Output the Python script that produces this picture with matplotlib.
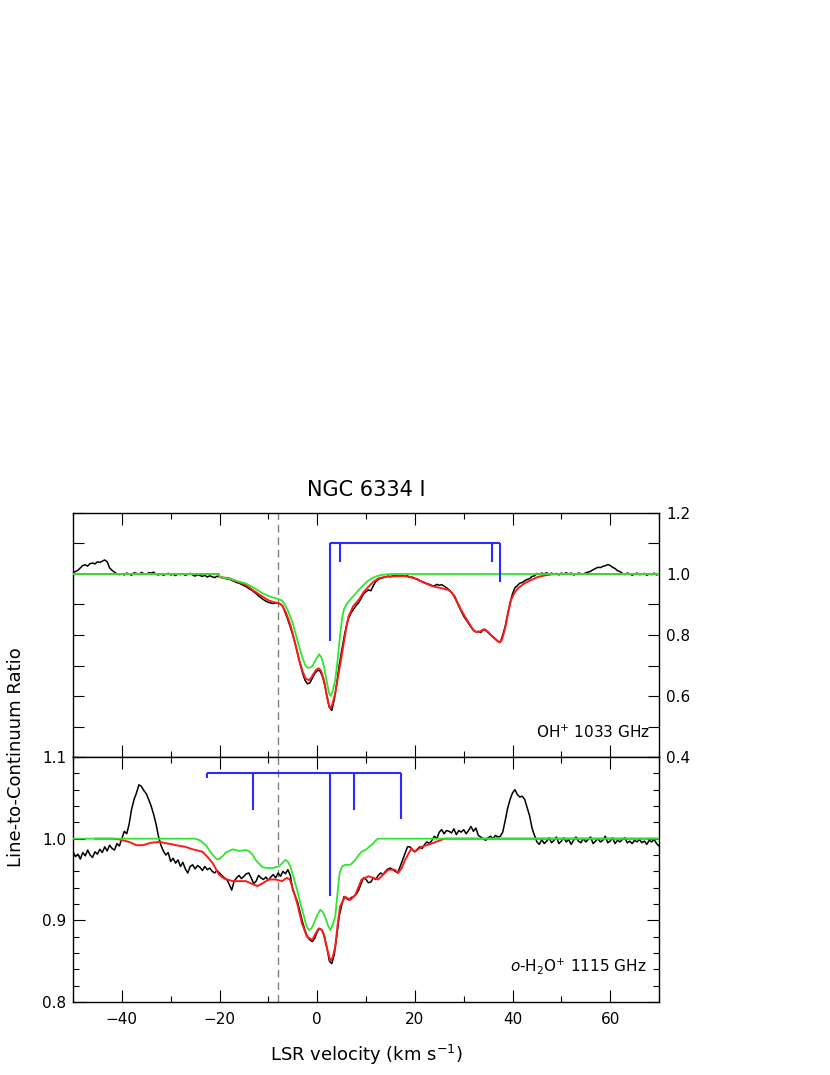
import numpy as np
import matplotlib
matplotlib.use("Agg")
import matplotlib.pyplot as plt
from matplotlib.ticker import MultipleLocator

# ---------------- DATA ----------------
# Observed spectra: channels from -50 km/s in 0.5 km/s steps (10 values per row = 5 km/s)
oh_obs = [
    1.005, 1.008, 1.012, 1.020, 1.028, 1.030, 1.026, 1.034, 1.036, 1.033,   # -50
    1.040, 1.038, 1.042, 1.046, 1.040, 1.020, 1.012, 1.006, 1.000, 0.998,   # -45
    1.001, 0.997, 1.003, 1.000, 0.996, 1.004, 1.002, 0.998, 1.005, 1.001,   # -40
    0.999, 1.004, 1.003, 1.006, 0.999, 0.997, 1.001, 0.996, 0.999, 1.002,   # -35
    0.997, 0.999, 0.995, 1.001, 0.998, 1.000, 0.996, 0.999, 1.002, 0.997,   # -30
    0.993, 0.998, 0.995, 0.992, 0.996, 0.990, 0.994, 0.991, 0.988, 0.993,   # -25
    0.990, 0.988, 0.986, 0.984, 0.983, 0.979, 0.976, 0.972, 0.970, 0.966,   # -20
    0.962, 0.958, 0.952, 0.948, 0.942, 0.936, 0.928, 0.922, 0.916, 0.911,   # -15
    0.907, 0.905, 0.903, 0.905, 0.904, 0.902, 0.893, 0.872, 0.850, 0.826,   # -10
    0.800, 0.772, 0.740, 0.705, 0.676, 0.652, 0.640, 0.643, 0.658, 0.674,   # -5
    0.683, 0.684, 0.668, 0.640, 0.598, 0.562, 0.553, 0.588, 0.640, 0.700,   # 0
    0.745, 0.792, 0.832, 0.858, 0.874, 0.886, 0.897, 0.906, 0.920, 0.935,   # 5
    0.942, 0.948, 0.945, 0.962, 0.975, 0.982, 0.986, 0.988, 0.990, 0.993,   # 10
    0.991, 0.994, 0.995, 0.996, 0.993, 0.995, 0.992, 0.994, 0.989, 0.990,   # 15
    0.985, 0.984, 0.978, 0.975, 0.972, 0.968, 0.966, 0.962, 0.961, 0.966,   # 20
    0.963, 0.965, 0.960, 0.955, 0.948, 0.940, 0.928, 0.912, 0.895, 0.878,   # 25
    0.862, 0.850, 0.838, 0.826, 0.815, 0.810, 0.812, 0.808, 0.818, 0.815,   # 30
    0.808, 0.800, 0.793, 0.786, 0.779, 0.776, 0.800, 0.828, 0.868, 0.905,   # 35
    0.935, 0.955, 0.962, 0.970, 0.972, 0.978, 0.982, 0.985, 0.992, 0.994,   # 40
    1.002, 0.998, 1.003, 1.000, 1.004, 0.998, 1.003, 0.999, 1.002, 0.997,   # 45
    1.003, 1.000, 1.004, 0.999, 1.003, 0.997, 0.999, 1.003, 1.001, 0.999,   # 50
    1.004, 1.006, 1.009, 1.014, 1.018, 1.022, 1.021, 1.025, 1.027, 1.031,   # 55
    1.028, 1.022, 1.018, 1.011, 1.008, 1.002, 0.998, 1.003, 1.001, 0.996,   # 60
    1.000, 1.003, 0.998, 0.999, 1.002, 0.996, 1.000, 0.998, 1.003, 0.997,   # 65
    1.000,                                                                  # 70
]

h2o_obs = [
    0.984, 0.978, 0.981, 0.975, 0.983, 0.979, 0.986, 0.980, 0.977, 0.984,   # -50
    0.981, 0.987, 0.983, 0.990, 0.985, 0.992, 0.988, 0.986, 0.994, 0.991,   # -45
    1.000, 1.009, 1.006, 1.018, 1.036, 1.048, 1.056, 1.066, 1.064, 1.059,   # -40
    1.055, 1.048, 1.040, 1.030, 1.018, 1.003, 0.992, 0.985, 0.980, 0.983,   # -35
    0.972, 0.976, 0.970, 0.974, 0.966, 0.971, 0.963, 0.958, 0.966, 0.968,   # -30
    0.963, 0.967, 0.965, 0.961, 0.966, 0.962, 0.964, 0.960, 0.958, 0.961,   # -25
    0.958, 0.955, 0.952, 0.950, 0.944, 0.937, 0.948, 0.952, 0.955, 0.951,   # -20
    0.954, 0.957, 0.958, 0.952, 0.945, 0.948, 0.955, 0.952, 0.950, 0.953,   # -15
    0.949, 0.953, 0.956, 0.952, 0.958, 0.954, 0.960, 0.957, 0.962, 0.955,   # -10
    0.937, 0.930, 0.922, 0.910, 0.898, 0.888, 0.880, 0.876, 0.874, 0.878,   # -5
    0.886, 0.890, 0.888, 0.880, 0.866, 0.850, 0.847, 0.858, 0.880, 0.905,   # 0
    0.918, 0.929, 0.927, 0.925, 0.928, 0.929, 0.932, 0.937, 0.945, 0.952,   # 5
    0.950, 0.946, 0.947, 0.952, 0.950, 0.955, 0.958, 0.956, 0.960, 0.963,   # 10
    0.964, 0.962, 0.960, 0.958, 0.966, 0.974, 0.982, 0.990, 0.990, 0.986,   # 15
    0.984, 0.987, 0.990, 0.988, 0.993, 0.996, 0.994, 0.998, 1.003, 1.000,   # 20
    1.008, 1.011, 1.006, 1.010, 1.009, 1.007, 1.012, 1.005, 1.010, 1.008,   # 25
    1.011, 1.006, 1.010, 1.015, 1.009, 1.013, 1.004, 1.002, 1.000, 0.998,   # 30
    1.001, 1.003, 1.000, 1.004, 1.002, 1.003, 1.008, 1.022, 1.037, 1.048,   # 35
    1.056, 1.060, 1.054, 1.051, 1.052, 1.048, 1.038, 1.028, 1.013, 1.004,   # 40
    0.996, 0.993, 0.999, 0.994, 0.997, 1.001, 0.995, 0.998, 1.002, 0.994,   # 45
    0.997, 1.001, 0.996, 0.999, 0.993, 0.998, 1.002, 0.997, 0.995, 1.000,   # 50
    0.996, 0.999, 1.002, 0.994, 0.997, 1.000, 0.996, 0.998, 1.003, 0.995,   # 55
    0.997, 1.001, 0.994, 0.998, 0.996, 0.999, 1.001, 0.995, 0.997, 0.994,   # 60
    0.998, 0.996, 0.999, 0.995, 0.997, 0.993, 0.998, 0.996, 0.999, 0.994,   # 65
    0.991,                                                                  # 70
]
chan_start, chan_step = -50.0, 0.5

# Model fits (velocity, ratio)
oh_fit_v = [-50, -20.1, -20, -18, -16.5, -14.6, -13, -11.2, -10, -9.2, -7.8, -7.2, -6.5,
            -5.8, -5.1, -4.4, -3.7, -3.0, -2.4, -1.7, -1.2, -0.7, -0.2, 0.3, 0.8, 1.4,
            2.0, 2.4, 2.7, 3.1, 3.7, 4.4, 5.1, 5.8, 6.4, 7.4, 8.5, 9.5, 10.5, 11.5, 12.6,
            14, 16.6, 18, 20.0, 21.5, 23.4, 25, 26.8, 27.5, 28.2, 28.8, 29.5, 30.2, 30.9,
            31.6, 32.2, 32.8, 33.3, 33.8, 34.3, 35.0, 35.6, 36.3, 37.0, 37.4, 37.8, 38.3,
            38.7, 39.2, 39.7, 40.4, 41.1, 42.5, 43.8, 45, 46.5, 48, 50, 70]
oh_fit = [1.0, 1.0, 0.990, 0.986, 0.976, 0.964, 0.945, 0.926, 0.914, 0.909, 0.904, 0.897, 0.877,
          0.848, 0.811, 0.765, 0.718, 0.682, 0.658, 0.652, 0.660, 0.674, 0.686, 0.691, 0.682, 0.652,
          0.600, 0.570, 0.560, 0.572, 0.609, 0.675, 0.740, 0.808, 0.860, 0.895, 0.915, 0.940, 0.958, 0.974, 0.986,
          0.991, 0.993, 0.993, 0.986, 0.974, 0.961, 0.955, 0.948, 0.940, 0.926, 0.905, 0.882, 0.862, 0.844,
          0.826, 0.813, 0.810, 0.811, 0.816, 0.819, 0.810, 0.800, 0.790, 0.780, 0.776, 0.784, 0.810,
          0.838, 0.880, 0.915, 0.938, 0.953, 0.970, 0.980, 0.989, 0.995, 0.999, 1.0, 1.0]

oh_fg_v = [-50, -20.1, -20.0, -18, -16, -14.6, -13, -11.2, -10, -9.2, -7.8, -7.2, -6.8, -6.0,
           -5.1, -4.4, -3.7, -3.0, -2.4, -2.0, -1.5, -1.0, -0.3, 0.4, 0.9, 1.4, 2.0, 2.4, 2.7,
           3.1, 3.7, 4.2, 4.7, 5.1, 5.5, 6.2, 7.1, 8.2, 9.2, 10.2, 11.2, 12.2, 13.2, 15, 70]
oh_fg = [1.0, 1.0, 0.990, 0.984, 0.975, 0.969, 0.955, 0.937, 0.928, 0.924, 0.917, 0.913, 0.904, 0.880,
         0.844, 0.803, 0.762, 0.725, 0.700, 0.693, 0.693, 0.698, 0.718, 0.737, 0.725, 0.696, 0.645, 0.612, 0.600,
         0.612, 0.652, 0.720, 0.800, 0.855, 0.885, 0.905, 0.922, 0.942, 0.959, 0.975, 0.986, 0.993, 0.997, 1.0, 1.0]

h2o_fit_v = [-45.5, -42, -40.4, -38.5, -37, -35.7, -34, -32.3, -30.5, -28.9, -27, -25.5, -23.5,
             -22.5, -21.4, -20.1, -19, -17.3, -16, -14.6, -13.5, -12.2, -11, -9.9, -8.5, -7.2,
             -6.2, -5.6, -5.1, -4.1, -3.1, -2.1, -1.0, -0.3, 0.3, 0.8, 1.3, 2.0, 2.7, 3.2, 3.7,
             4.2, 4.7, 5.7, 6.8, 7.8, 9.1, 10.5, 11.5, 12.5, 13.5, 14.6, 15.9, 16.6, 17.3, 18.0,
             19.3, 20.0, 21.4, 23.4, 26.1, 70]
h2o_fit = [1.0, 1.0, 0.999, 0.996, 0.992, 0.992, 0.995, 0.996, 0.994, 0.992, 0.990, 0.987, 0.984,
           0.978, 0.970, 0.956, 0.951, 0.948, 0.948, 0.948, 0.945, 0.942, 0.946, 0.950, 0.950, 0.948,
           0.952, 0.950, 0.941, 0.921, 0.896, 0.880, 0.876, 0.884, 0.890, 0.889, 0.884, 0.866, 0.850, 0.855, 0.868,
           0.895, 0.917, 0.929, 0.925, 0.931, 0.950, 0.954, 0.952, 0.950, 0.956, 0.962, 0.962, 0.958, 0.964, 0.974,
           0.988, 0.984, 0.990, 0.994, 1.0, 1.0]

h2o_fg_v = [-50, -25, -24, -22.8, -21.4, -20.6, -20.1, -19.3, -18.7, -17.3, -16, -14.6, -14.0,
            -13.2, -12.6, -11.2, -10, -9.2, -7.8, -7.0, -6.5, -6.0, -5.5, -4.8, -4.1, -3.4,
            -2.7, -2.2, -1.7, -1.2, -0.7, 0, 0.65, 1.2, 1.7, 2.2, 2.7, 3.2, 3.7, 4.2, 4.6,
            5.1, 5.7, 6.3, 6.8, 7.3, 7.8, 8.5, 9.1, 10.1, 10.8, 11.5, 12.0, 12.5, 70]
h2o_fg = [1.0, 1.0, 0.998, 0.992, 0.980, 0.975, 0.975, 0.979, 0.983, 0.987, 0.985, 0.986, 0.985,
          0.980, 0.974, 0.965, 0.964, 0.964, 0.966, 0.971, 0.974, 0.972, 0.966, 0.952, 0.937, 0.920,
          0.905, 0.893, 0.888, 0.890, 0.896, 0.906, 0.913, 0.910, 0.903, 0.894, 0.888, 0.895, 0.905, 0.935, 0.958,
          0.966, 0.968, 0.968, 0.968, 0.971, 0.974, 0.980, 0.984, 0.987, 0.991, 0.994, 0.998, 1.0, 1.0]

# Hyperfine-structure markers: (velocity, lower end), comb at level
oh_hfs_level = 1.10
oh_hfs = [(2.7, 0.78), (4.7, 1.038), (35.8, 1.038), (37.5, 0.975)]
h2o_hfs_level = 1.08
h2o_hfs = [(-22.6, 1.074), (-13.06, 1.035), (2.7, 0.930), (7.5, 1.035), (17.1, 1.024)]

v_marker = -8.0
title = "NGC 6334 I"
oh_label = r"OH$^{+}$ 1033 GHz"
h2o_label = r"$o$-H$_2$O$^{+}$ 1115 GHz"
xlabel = r"LSR velocity (km s$^{-1}$)"
ylabel = "Line-to-Continuum Ratio"

# ---------------- STYLE ----------------
BLACK, RED, GREEN, BLUE, GREY = "#000000", "#ff1a1a", "#2ee62e", "#2b2bff", "#808080"
plt.rcParams["font.family"] = ["DejaVu Sans"]
plt.rcParams["mathtext.fontset"] = "dejavusans"

W, H = 830, 1075
fig = plt.figure(figsize=(W / 100, H / 100), dpi=100)
L, R = 73, 659
ax1 = fig.add_axes([L / W, 1 - 757 / H, (R - L) / W, 244 / H])
ax2 = fig.add_axes([L / W, 1 - 1002 / H, (R - L) / W, 245 / H], sharex=ax1)


def chan_axis(vals):
    return chan_start + chan_step * np.arange(len(vals))


for ax, obs, fv, fy, gv, gy, hlev, hfs in (
    (ax1, oh_obs, oh_fit_v, oh_fit, oh_fg_v, oh_fg, oh_hfs_level, oh_hfs),
    (ax2, h2o_obs, h2o_fit_v, h2o_fit, h2o_fg_v, h2o_fg, h2o_hfs_level, h2o_hfs),
):
    ax.plot(chan_axis(obs), obs, color=BLACK, lw=1.1, drawstyle="default", zorder=2)
    ax.plot(fv, fy, color=RED, lw=1.4, zorder=3)
    ax.plot(gv, gy, color=GREEN, lw=1.3, zorder=4)
    ax.axvline(v_marker, color=GREY, lw=1.0, ls=(0, (5.5, 3.5)), zorder=1)
    hv = [h[0] for h in hfs]
    ax.plot([min(hv), max(hv)], [hlev, hlev], color=BLUE, lw=1.5, zorder=5,
            solid_capstyle="butt")
    for v, lo in hfs:
        ax.plot([v, v], [hlev, lo], color=BLUE, lw=1.5, zorder=5, solid_capstyle="butt")
    for sp in ax.spines.values():
        sp.set_linewidth(1.0)

ax1.set_xlim(-50, 70)
ax1.set_ylim(0.4, 1.2)
ax2.set_ylim(0.8, 1.1)

for ax in (ax1, ax2):
    ax.xaxis.set_major_locator(MultipleLocator(20))
    ax.xaxis.set_minor_locator(MultipleLocator(10))
    ax.tick_params(axis="both", which="both", direction="in", top=True, bottom=True,
                   left=True, right=True, width=0.8, labelsize=11, pad=5)
    ax.tick_params(axis="x", which="major", length=8.5)
    ax.tick_params(axis="x", which="minor", length=4.5)

ax1.yaxis.set_major_locator(MultipleLocator(0.2))
ax1.yaxis.set_minor_locator(MultipleLocator(0.1))
ax1.tick_params(axis="y", which="both", length=8.0, labelleft=False, labelright=True)
ax1.tick_params(axis="x", labelbottom=False)
ax1.yaxis.set_major_formatter(plt.FormatStrFormatter("%.1f"))

ax2.yaxis.set_major_locator(MultipleLocator(0.1))
ax2.yaxis.set_minor_locator(MultipleLocator(0.02))
ax2.tick_params(axis="y", which="major", length=8.5)
ax2.tick_params(axis="y", which="minor", length=4.0)
ax2.tick_params(axis="y", labelleft=True, labelright=False)
ax2.tick_params(axis="x", which="major", pad=7)
ax2.yaxis.set_major_formatter(plt.FormatStrFormatter("%.1f"))

ax1.text(0.985, 0.10, oh_label, transform=ax1.transAxes, ha="right", va="center", fontsize=11)
ax2.text(0.978, 0.145, h2o_label, transform=ax2.transAxes, ha="right", va="center", fontsize=11)

fig.text((L + R) / 2 / W, 1 - 490 / H, title, ha="center", va="center", fontsize=15)
fig.text((L + R) / 2 / W, 1 - 1055 / H, xlabel, ha="center", va="center", fontsize=13)
fig.text(16 / W, 1 - 757 / H, ylabel, ha="center", va="center", rotation=90, fontsize=13)

fig.savefig("out.png", dpi=100)
